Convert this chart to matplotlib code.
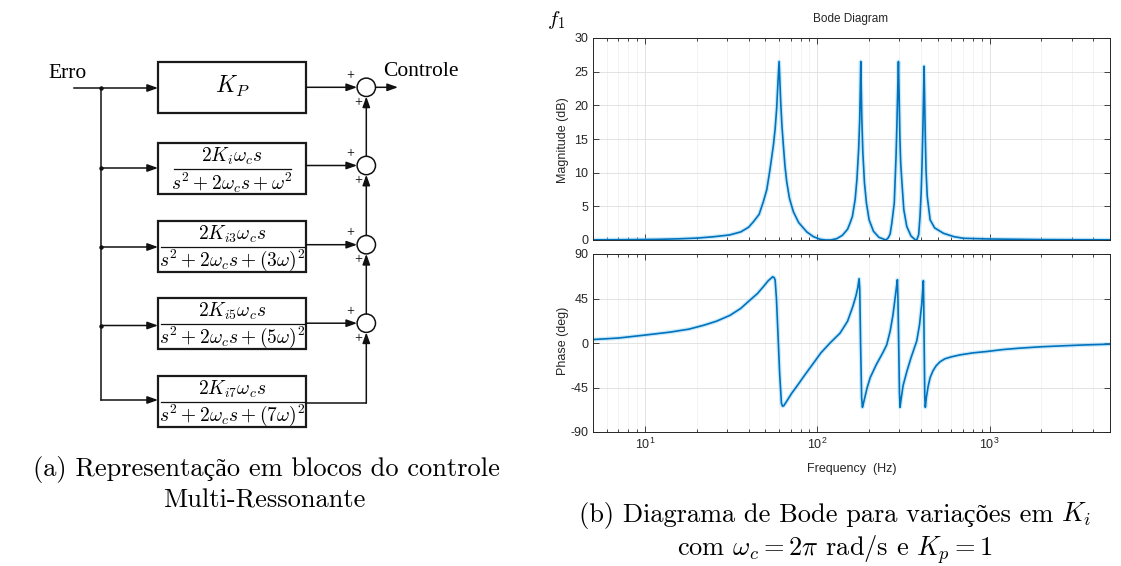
import numpy as np
import matplotlib
matplotlib.use('Agg')
import matplotlib.pyplot as plt
from matplotlib.patches import Rectangle, Circle
from matplotlib.ticker import NullFormatter

plt.rcParams['font.family'] = ['Liberation Sans', 'DejaVu Sans']
plt.rcParams['axes.unicode_minus'] = False

# ---- Bode data (Hz, dB / deg) ----
mag_f = [5, 8, 12, 16, 20, 25, 31, 36, 40, 42.6, 46, 48.7, 51, 53.3, 55.7, 57, 58.2, 59.2, 60.1,
         61.4, 62.4, 63.6, 65, 66.5, 69, 72.7, 78, 87, 95, 104, 112,
         120, 130, 140, 150, 155, 160, 166, 170, 174, 176.5, 178, 179, 180, 181.5, 184, 188,
         193, 200, 212, 228, 250,
         258, 265, 271, 280, 286.7, 290, 293, 296, 299, 302, 305, 309.5, 318, 331, 350, 372,
         378, 388, 395, 401, 406, 410, 414, 417, 420, 424, 428, 435, 452, 480, 540, 620, 705,
         1000, 2000, 5000]
mag_db = [0.02, 0.05, 0.1, 0.18, 0.28, 0.48, 0.75, 1.2, 1.9, 2.7, 3.8, 5.7, 7.5, 10.6, 14.1, 16.5, 19.6, 23.5, 26.5,
          20.5, 17, 14.1, 11, 8.7, 6.2, 4.2, 2.6, 1.2, 0.5, 0.1, 0.0,
          0.0, 0.2, 0.7, 1.6, 2.5, 3.5, 6, 9, 13.5, 18, 23, 26.5, 23, 18, 13, 8.5,
          5.5, 3, 1.3, 0.4, 0.0,
          0.3, 0.9, 2.5, 5.5, 12.4, 17, 22, 26.5, 21, 15, 11.5, 8.9, 4.5, 2, 0.6, 0.0,
          0.0, 0.8, 3.5, 7, 11.4, 16, 21.5, 25.8, 21, 15, 10.4, 6.5, 3, 1.8, 1, 0.5, 0.25,
          0.15, 0.06, 0.02]

ph_f = [5, 7, 10, 14, 18, 22, 26, 31.2, 36, 40.8, 45, 48.7, 52, 55.2, 56.3, 57, 58, 59.4, 60.5, 62,
        63, 64, 67, 71, 76, 85, 95, 105, 118.7, 135.7, 150, 161, 168, 172, 175, 176.5, 178.5,
        181, 183, 186, 195, 203, 220, 240, 253, 265, 275, 283, 289, 292, 294, 297, 300, 302.5,
        306, 315, 331, 350, 378, 392, 404, 410, 413, 415, 418, 421, 424, 430, 440, 452, 470, 490,
        516, 550, 600, 675, 800, 976, 1200, 1500, 2000, 2700, 3500, 5000]
ph_deg = [3.5, 5, 8, 11, 14, 18, 22, 28, 35, 43.5, 50, 57, 63, 67, 66, 63.7, 45, 3, -30, -61,
          -64, -63.4, -58, -51, -44, -32, -20.5, -10, 0, 10, 22, 37, 48, 56, 65, 55, 0,
          -55, -65, -60, -45, -35, -22, -10, -2, 12, 28, 45, 58, 64, 45, 0, -50, -65,
          -58, -43, -29, -15, 2, 18, 39, 55, 63, 40, -10, -55, -65, -55, -44, -35, -28, -23,
          -19, -16, -14, -12, -10, -8.5, -6.6, -5.2, -3.8, -2.8, -2, -1.2]

peak_labels = ['60 Hz', '180 Hz', '300 Hz', '420 Hz']
param_labels = [r'$K_p = 1$', r'$K_{ih} = 1$', r'$f_1 = 60\,\mathrm{Hz}$', r'$f_c = 1\,\mathrm{Hz}$']

# ---- block diagram texts ----
box_nums = [r'$2K_i\omega_c s$', r'$2K_{i3}\omega_c s$', r'$2K_{i5}\omega_c s$', r'$2K_{i7}\omega_c s$']
box_dens = [r'$s^2+2\omega_c s+\omega^2$', r'$s^2+2\omega_c s+(3\omega)^2$',
            r'$s^2+2\omega_c s+(5\omega)^2$', r'$s^2+2\omega_c s+(7\omega)^2$']

W, H = 1121, 566
fig = plt.figure(figsize=(W / 100, H / 100), dpi=100)
ov = fig.add_axes([0, 0, 1, 1])
ov.set_xlim(0, W)
ov.set_ylim(H, 0)
ov.axis('off')


def px_axes(l, t, r, b):
    return fig.add_axes([l / W, 1 - b / H, (r - l) / W, (b - t) / H])


def arrow(x0, y0, x1, y1):
    ov.annotate('', xy=(x1, y1), xytext=(x0, y0),
                arrowprops=dict(arrowstyle='-|>,head_length=0.7,head_width=0.25', lw=1.1,
                                color='#111111', mutation_scale=9, shrinkA=0, shrinkB=0))


serif = ['Liberation Serif', 'DejaVu Serif']
capfont = ['cmr10', 'Liberation Serif', 'DejaVu Serif']

# ---- block diagram ----
bx0, bx1 = 158, 306
box_tops = [61.5, 143, 221, 298, 376]
box_h = 51
bus_x = 101
branch_y = [88, 168, 247, 325.5, 400]
cx, cr = 366.3, 9.2
circ_y = [87.3, 165.5, 244.7, 323.2]
bar_spans = [(174, 291), (161, 305), (161, 305), (161, 305)]

for top in box_tops:
    ov.add_patch(Rectangle((bx0, top), bx1 - bx0, box_h, fill=False, lw=1.6, ec='#1a1a1a'))

ov.text(68, 73, 'Erro', ha='center', va='center', fontsize=15.5, family=serif)
ov.text(421, 72, 'Controle', ha='center', va='center', fontsize=15.5, family=serif)
ov.plot([74, bus_x], [branch_y[0], branch_y[0]], color='#111111', lw=1.1)
ov.plot([bus_x, bus_x], [branch_y[0], branch_y[-1]], color='#111111', lw=1.1)
for i, by in enumerate(branch_y):
    arrow(bus_x, by, bx0, by)
    if i < len(branch_y) - 1:
        ov.plot(bus_x, by, 'o', color='#111111', ms=2.2)

ov.text((bx0 + bx1) / 2, 86, r'$K_P$', ha='center', va='center', fontsize=17, math_fontfamily='cm')
for i in range(4):
    mid = box_tops[i + 1] + box_h / 2
    ov.text((bx0 + bx1) / 2, mid - 12.5, box_nums[i], ha='center', va='center', fontsize=14,
            math_fontfamily='cm')
    ov.text((bx0 + bx1) / 2, mid + 14, box_dens[i], ha='center', va='center', fontsize=14,
            math_fontfamily='cm')
    ov.plot(bar_spans[i], [mid, mid], color='#111111', lw=0.9)

for cy in circ_y:
    ov.add_patch(Circle((cx, cy), cr, fill=False, lw=1.1, ec='#111111'))
    arrow(bx1, cy, cx - cr, cy)
    ov.text(cx - 16, cy - 12, '+', ha='center', va='center', fontsize=10, family=serif)
    ov.text(cx - 8, cy + 15, '+', ha='center', va='center', fontsize=10, family=serif)

ov.plot([bx1, cx], [403, 403], color='#111111', lw=1.1)
arrow(cx, 403, cx, circ_y[3] + cr)
for k in range(3, 0, -1):
    arrow(cx, circ_y[k] - cr, cx, circ_y[k - 1] + cr)
arrow(cx + cr, circ_y[0], 398, circ_y[0])

# ---- Bode diagram ----
line_c = '#0072BD'
ax_m = px_axes(593, 38, 1110, 240)
ax_p = px_axes(593, 254, 1110, 432)

ax_m.plot(mag_f, mag_db, color='#8fd3f5', lw=3.0, alpha=0.45, solid_capstyle='round')
ax_m.plot(mag_f, mag_db, color=line_c, lw=1.2)
ax_p.plot(ph_f, ph_deg, color='#8fd3f5', lw=3.0, alpha=0.45, solid_capstyle='round')
ax_p.plot(ph_f, ph_deg, color=line_c, lw=1.2)

ax_m.set_ylim(0, 30)
ax_m.set_yticks(np.arange(0, 31, 5))
ax_p.set_ylim(-90, 90)
ax_p.set_yticks([-90, -45, 0, 45, 90])
for ax in (ax_m, ax_p):
    ax.set_xscale('log')
    ax.set_xlim(5, 5000)
    ax.set_axisbelow(True)
    ax.grid(True, which='major', color='#dedede', lw=0.6)
    ax.grid(True, which='minor', axis='x', color='#eeeeee', lw=0.5)
    ax.tick_params(which='both', direction='in', top=True, right=True, labelsize=9,
                   colors='#262626', width=0.6)
    ax.tick_params(which='major', length=4)
    ax.tick_params(which='minor', length=2)
    ax.xaxis.set_minor_formatter(NullFormatter())
    for s in ax.spines.values():
        s.set_color('#262626')
        s.set_linewidth(0.7)
ax_m.tick_params(labelbottom=False)

ov.text(851, 19, 'Bode Diagram', ha='center', va='center', fontsize=8.5, color='#262626')
ov.text(563, 140, 'Magnitude (dB)', ha='center', va='center', rotation=90, fontsize=9, color='#262626')
ov.text(563, 341, 'Phase (deg)', ha='center', va='center', rotation=90, fontsize=9, color='#262626')
ov.text(852, 469, 'Frequency  (Hz)', ha='center', va='center', fontsize=9, color='#262626')
ov.text(556, 20, r'$f_1$', ha='center', va='center', fontsize=15, math_fontfamily='cm')

peak_pos = [(773, 50), (838, 50), (909, 50), (957, 79)]
for lab, (px, py) in zip(peak_labels, peak_pos):
    ov.text(px, py, lab, ha='center', va='center', fontsize=14, family=serif)
param_y = [125, 153, 182, 210]
param_x = [991, 991, 996, 999]
for lab, px, py in zip(param_labels, param_x, param_y):
    ov.text(px, py, lab, ha='left', va='center', fontsize=16, math_fontfamily='cm')

# ---- captions ----
ov.text(266, 476, '(a) Representação em blocos do controle', ha='center', va='baseline',
        fontsize=19, family=capfont)
ov.text(264, 508, 'Multi-Ressonante', ha='center', va='baseline', fontsize=19, family=capfont)

# plain words and the math symbol are set apart so the accented letters keep their font
cap_b1 = ov.text(0, 522, '(b) Diagrama de Bode para variações em', ha='left', va='baseline',
                 fontsize=19, family=capfont)
cap_b2 = ov.text(0, 522, r'$K_i$', ha='left', va='baseline', fontsize=19, math_fontfamily='cm')
rend = fig.canvas.get_renderer()
w1 = cap_b1.get_window_extent(rend).width
w2 = cap_b2.get_window_extent(rend).width
gap = 7
x_start = 835 - (w1 + gap + w2) / 2
cap_b1.set_x(x_start)
cap_b2.set_x(x_start + w1 + gap)

ov.text(835, 556, r'com $\omega_c = 2\pi$ rad/s e $K_p = 1$', ha='center', va='baseline',
        fontsize=19, family=capfont, math_fontfamily='cm')

fig.savefig('out.png', dpi=100)
